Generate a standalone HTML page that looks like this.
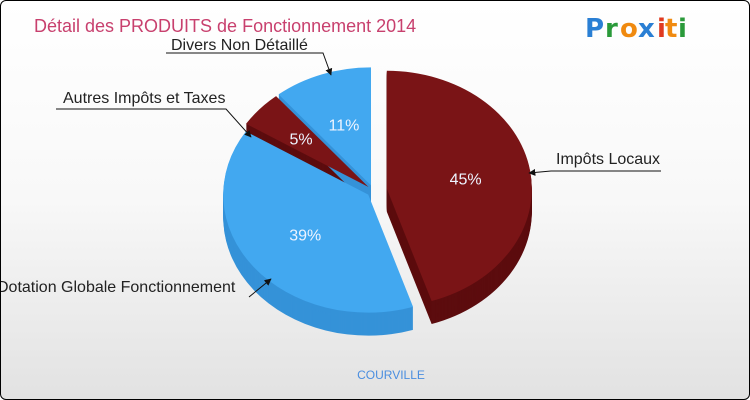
<!DOCTYPE html>
<html><head><meta charset="utf-8"><style>
html,body{margin:0;padding:0;}
body{width:750px;height:400px;overflow:hidden;font-family:"Liberation Sans",sans-serif;}
#frame{position:absolute;left:0;top:0;width:748px;height:398px;border:1px solid #000;border-radius:6px;background:linear-gradient(#ffffff 0%,#f8f8f8 50%,#e2e2e2 100%);overflow:hidden;}
</style></head><body>
<div id="frame">
<svg id="chart" width="750" height="400" style="position:absolute;left:0;top:0">
<defs><marker id="arr" viewBox="0 0 10 10" refX="9" refY="5" markerWidth="7" markerHeight="7" orient="auto"><path d="M0,0 L10,5 L0,10 z" fill="#111"/></marker></defs>
<text x="33" y="31" font-size="18" fill="#c8406e">Détail des PRODUITS de Fonctionnement 2014</text>
<g font-size="26" font-weight="bold" font-family="'DejaVu Sans',sans-serif">
<text x="584" y="36" fill="#2a7fd4">P</text><text x="604" y="36" fill="#2a9a3a">r</text><text x="619" y="36" fill="#f08a10">o</text><text x="637" y="36" fill="#2a7fd4">x</text><text x="656" y="36" fill="#e03a20">i</text><text x="664" y="36" fill="#f08a10">t</text><text x="677" y="36" fill="#2a9a3a">i</text>
</g>
<g id="pie"></g>
<text x="390" y="378" font-size="12" fill="#4a8ee0" text-anchor="middle">COURVILLE</text>
</svg>
</div>
<script>
const categories=["Impôts Locaux","Dotation Globale Fonctionnement","Autres Impôts et Taxes","Divers Non Détaillé"];
const values=[45,39,5,11];
const topColors=["#7a1416","#42a8f0","#7a1416","#42a8f0"];
const sideColors=["#5c0c0e","#3592d8","#5c0c0e","#3592d8"];
const cx=372,cy=190,rx=145,ry=118,depth=23;
const explode=[14,6,6,6];
const NS="http://www.w3.org/2000/svg";
const g=document.getElementById('pie');
const total=values.reduce((a,b)=>a+b,0);
function pt(ox,oy,a){return [ox+rx*Math.cos(a),oy+ry*Math.sin(a)];}
function slicePath(ox,oy,a0,a1){
  const p0=pt(ox,oy,a0),p1=pt(ox,oy,a1);const large=(a1-a0)>Math.PI?1:0;
  return `M${ox},${oy} L${p0[0]},${p0[1]} A${rx},${ry} 0 ${large} 1 ${p1[0]},${p1[1]} Z`;
}
let a=-Math.PI/2;
const slices=[];
values.forEach((v,i)=>{const a0=a,a1=a+v/total*2*Math.PI;a=a1;const m=(a0+a1)/2;
  slices.push({i,a0,a1,m,ox:cx+explode[i]*Math.cos(m),oy:cy+explode[i]*Math.sin(m)});});
slices.forEach(s=>{
  for(let d=depth;d>=1;d-=1){
    const p=document.createElementNS(NS,'path');
    p.setAttribute('d',slicePath(s.ox,s.oy+d,s.a0,s.a1));
    p.setAttribute('fill',sideColors[s.i]);
    
    
    g.appendChild(p);
  }
});
slices.forEach(s=>{
  const p=document.createElementNS(NS,'path');
  p.setAttribute('d',slicePath(s.ox,s.oy,s.a0,s.a1));
  p.setAttribute('fill',topColors[s.i]);
  
  
  g.appendChild(p);
  const t=document.createElementNS(NS,'text');
  const lr=values[s.i]<8?0.62:0.55;
  t.setAttribute('x',s.ox+rx*lr*Math.cos(s.m));
  t.setAttribute('y',s.oy+ry*lr*Math.sin(s.m)+6);
  t.setAttribute('text-anchor','middle');t.setAttribute('font-size','16');t.setAttribute('fill','#eef4ff');
  t.textContent=values[s.i]+'%';
  
  
  g.appendChild(t);
});
const callouts=[
 [555,163,"start","660,170 550,170 528,172"],
 [-4,291,"start","248,296 270,278"],
 [62,102,"start","55,108 225,108 250,136"],
 [170,49,"start","165,52 322,52 330,74"]
];
callouts.forEach((c,i)=>{
  const t=document.createElementNS(NS,'text');
  t.setAttribute('x',c[0]);t.setAttribute('y',c[1]);t.setAttribute('font-size','16');t.setAttribute('fill','#222');
  t.textContent=categories[i];
  
  
  document.getElementById('chart').appendChild(t);
  const l=document.createElementNS(NS,'polyline');
  l.setAttribute('points',c[3]);l.setAttribute('fill','none');l.setAttribute('stroke','#111');l.setAttribute('marker-end','url(#arr)');
  
  
  document.getElementById('chart').appendChild(l);
});
</script>
</body></html>
